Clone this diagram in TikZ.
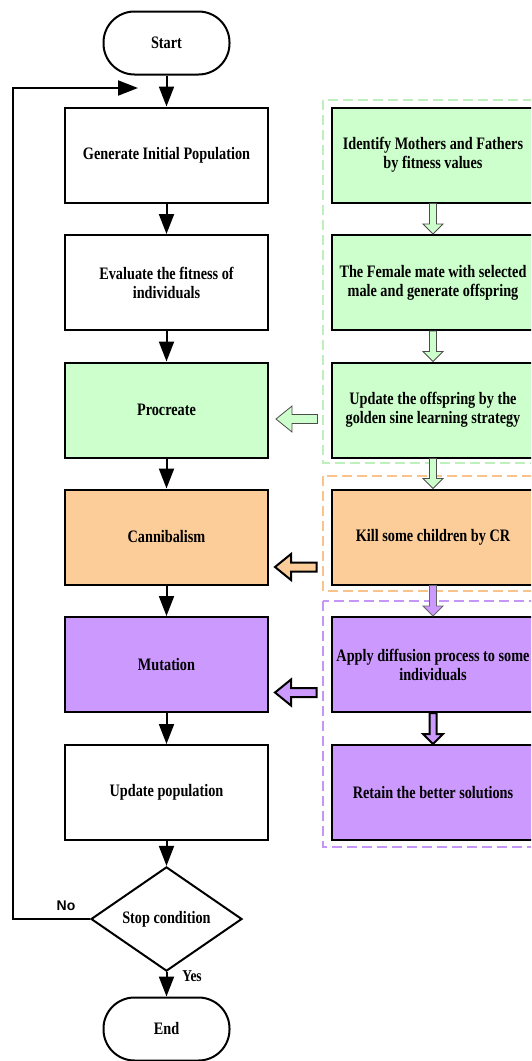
\documentclass[tikz,border=0pt]{standalone}
\usepackage{fontspec}
\newfontfamily\boxfont{Liberation Serif}[FakeStretch=0.815]
\newfontfamily\labfont{Liberation Sans}
\usepackage{xcolor}
\usetikzlibrary{arrows.meta,positioning,calc,shapes}
\definecolor{grn}{RGB}{204,255,204}
\definecolor{org}{RGB}{252,204,153}
\definecolor{prp}{RGB}{204,153,255}
\definecolor{grnd}{RGB}{190,240,190}
\definecolor{orgd}{RGB}{250,195,140}
\definecolor{prpd}{RGB}{196,150,245}

\begin{document}
\begin{tikzpicture}[x=1pt, y=-1pt,
    font=\boxfont\bfseries\fontsize{17.5}{19}\selectfont,
    box/.style={rectangle, draw, line width=2pt, minimum width=203pt, minimum height=95pt, align=center, inner sep=2pt},
    term/.style={rectangle, draw, line width=2pt, rounded corners=31pt, minimum width=126pt, minimum height=63pt},
    cond/.style={diamond, draw, line width=2pt, minimum width=151pt, minimum height=94pt, inner sep=0pt},
    group/.style={draw, dash pattern=on 10pt off 5pt, line width=1.5pt},
    arrow/.style={line width=2pt, -{Triangle[length=20pt, width=15pt]}},
    blkdown/.style={line width=0.8pt, to path={([xshift=-3.5pt]\tikztostart) -- ([xshift=-3.5pt,yshift=10pt]\tikztotarget) -- ([xshift=-10pt,yshift=10pt]\tikztotarget) -- (\tikztotarget) -- ([xshift=10pt,yshift=10pt]\tikztotarget) -- ([xshift=3.5pt,yshift=10pt]\tikztotarget) -- ([xshift=3.5pt]\tikztostart) -- cycle}},
    blkleft/.style={line width=2pt, to path={([yshift=4.5pt]\tikztostart) -- ([xshift=16pt,yshift=4.5pt]\tikztotarget) -- ([xshift=16pt,yshift=13pt]\tikztotarget) -- (\tikztotarget) -- ([xshift=16pt,yshift=-13pt]\tikztotarget) -- ([xshift=16pt,yshift=-4.5pt]\tikztotarget) -- ([yshift=-4.5pt]\tikztostart) -- cycle}}
]
\path[use as bounding box, clip] (0,0) rectangle (531,1061);

% groups on the right
\draw[group, grnd] (323,100) rectangle (545,463);
\draw[group, orgd] (323,476) rectangle (545,591);
\draw[group, prpd] (323,601) rectangle (545,847);

% main flow
\node[term] (start) at (166.5,43) {Start};
\node[box] (gen) at (166.5,155) {Generate Initial Population};
\node[box] (eval) at (166.5,282.5) {Evaluate the fitness of\\individuals};
\node[box, fill=grn] (proc) at (166.5,410) {Procreate};
\node[box, fill=org] (cann) at (166.5,537) {Cannibalism};
\node[box, fill=prp] (mut) at (166.5,664.5) {Mutation};
\node[box] (updpop) at (166.5,792.5) {Update population};
\node[cond] (stop) at (166.5,919) {Stop condition};
\node[term] (end) at (166.5,1029) {End};

% sub steps
\node[box, fill=grn] (ident) at (433,155) {Identify Mothers and Fathers\\by fitness values};
\node[box, fill=grn] (mate) at (433,282.5) {The Female mate with selected\\male and generate offspring};
\node[box, fill=grn] (upd) at (433,410) {Update the offspring by the\\golden sine learning strategy};
\node[box, fill=org] (kill) at (433,537) {Kill some children by CR};
\node[box, fill=prp] (diff) at (433,664.5) {Apply diffusion process to some\\individuals};
\node[box, fill=prp] (keep) at (433,792.5) {Retain the better solutions};

\draw[arrow] (start) -- (gen);
\draw[arrow] (gen) -- (eval);
\draw[arrow] (eval) -- (proc);
\draw[arrow] (proc) -- (cann);
\draw[arrow] (cann) -- (mut);
\draw[arrow] (mut) -- (updpop);
\draw[arrow] (updpop) -- (stop);
\draw[arrow] (stop) -- (end);
\node[font=\boxfont\bfseries\fontsize{16.5}{18}\selectfont] (yes) at (192,976) {Yes};

\coordinate (loopin) at (138,88);
\draw[arrow] (stop.west) -- ++(-77,0) |- (loopin);
\node[font=\labfont\bfseries\fontsize{14}{16}\selectfont] (no) at (66,906) {No};

\draw[blkdown, fill=grn, draw=black!70] (ident.south) to (mate.north);
\draw[blkdown, fill=grn, draw=black!70] (mate.south) to (upd.north);
\draw[blkdown, fill=grn, draw=black!70] (upd.south) to (kill.north);
\draw[blkdown, fill=prp, draw=black!60] (kill.south) to (diff.north);
\draw[blkdown, fill=prp, line width=2pt] (diff.south) to (keep.north);

\coordinate (updout) at ([xshift=-13pt,yshift=-9pt]upd.west);
\coordinate (procin) at ([xshift=7pt,yshift=-9pt]proc.east);
\coordinate (killout) at ([xshift=-14pt,yshift=-30pt]kill.west);
\coordinate (cannin) at ([xshift=6pt,yshift=-30pt]cann.east);
\coordinate (diffout) at ([xshift=-14pt,yshift=-28pt]diff.west);
\coordinate (mutin) at ([xshift=6pt,yshift=-28pt]mut.east);
\draw[blkleft, fill=grn, draw=black!70, line width=0.8pt] (updout) to (procin);
\draw[blkleft, fill=org] (killout) to (cannin);
\draw[blkleft, fill=prp] (diffout) to (mutin);
\end{tikzpicture}
\end{document}
